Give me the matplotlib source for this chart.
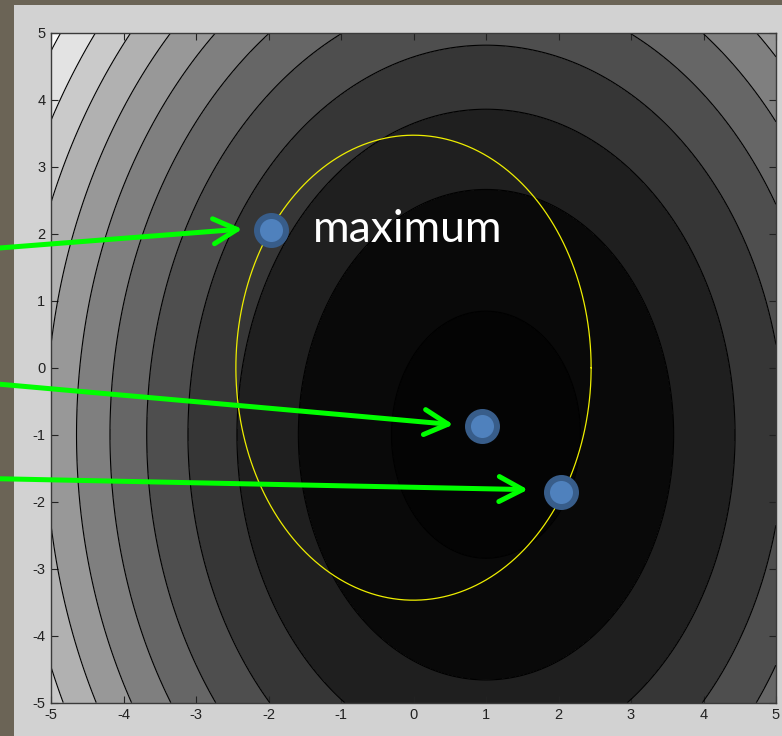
import numpy as np
import matplotlib.pyplot as plt
from matplotlib.patches import Rectangle

plt.rcParams['font.family'] = ['Liberation Sans', 'DejaVu Sans']
plt.rcParams['axes.unicode_minus'] = False

# surface f = (x-x0)^2 + wy*(y-y0)^2
x0, y0 = 1.0, -1.0
wy = 0.5
levels = [1.7, 6.7, 11.8, 16.9, 21.9, 26.9, 31.9, 36.9, 42, 47, 52.4]
fill_colors = ['#040404', '#090909', '#1f1f1f', '#363636', '#4e4e4e', '#666666',
               '#7f7f7f', '#989898', '#b1b1b1', '#cacaca', '#e3e3e3', '#fcfcfc']

# yellow constraint ellipse (half axes)
ell_a, ell_b = 2.45, 3.47

# blue points
pt_x = [-1.97, 0.95, 2.03]
pt_y = [2.05, -0.87, -1.85]

# green arrows: tail (off the left side) -> tip
arr_tail = [(-6.5, 1.72), (-6.5, -0.17), (-6.5, -1.64)]
arr_tip = [(-2.36, 2.07), (0.55, -0.85), (1.58, -1.82)]

label_text = 'maximum'
label_pos = (-1.39, 1.87)

ticks = list(range(-5, 6))

xs = np.linspace(-5, 5, 201)
X, Y = np.meshgrid(xs, xs)
F = (X - x0)**2 + wy * (Y - y0)**2

fig = plt.figure(figsize=(7.82, 7.36), dpi=100, facecolor='#6b6456')
fig.add_artist(Rectangle((14/782, 0), 1, 731/736, transform=fig.transFigure,
                         facecolor='#d2d2d2', edgecolor='none', zorder=-1))
ax = fig.add_axes([51/782, 33.3/736, 725/782, 670/736])

ax.contourf(X, Y, F, levels=[F.min() - 1] + levels + [F.max() + 1], colors=fill_colors)
ax.contour(X, Y, F, levels=levels, colors='k', linewidths=0.8)

t = np.linspace(0, 2*np.pi, 400)
ax.plot(ell_a*np.cos(t), ell_b*np.sin(t), color='#eeee00', lw=0.9)

for tail, tip in zip(arr_tail, arr_tip):
    ax.annotate('', xy=tip, xytext=tail, annotation_clip=False,
                arrowprops=dict(arrowstyle='->,head_length=0.85,head_width=0.45',
                                color='#00ff00', lw=3.6, mutation_scale=20,
                                shrinkA=0, shrinkB=0, capstyle='round', joinstyle='round'))

ax.plot(pt_x, pt_y, 'o', ls='none', ms=20.9, mfc='#4f81bd', mec='#385d8a', mew=4.3, zorder=5)

ax.text(label_pos[0], label_pos[1], label_text, color='white', fontsize=32,
        family=['Lato', 'DejaVu Sans'], va='baseline', zorder=6)

ax.set_xlim(-5, 5)
ax.set_ylim(-5, 5)
ax.set_xticks(ticks)
ax.set_yticks(ticks)
ax.tick_params(direction='in', top=True, right=True, length=5, width=0.8,
               labelsize=10.5, labelcolor='#222222', color='#222222', pad=4)
for s in ax.spines.values():
    s.set_color('#3a3a3a')
    s.set_linewidth(1)

fig.savefig('out.png', dpi=100, facecolor=fig.get_facecolor())
